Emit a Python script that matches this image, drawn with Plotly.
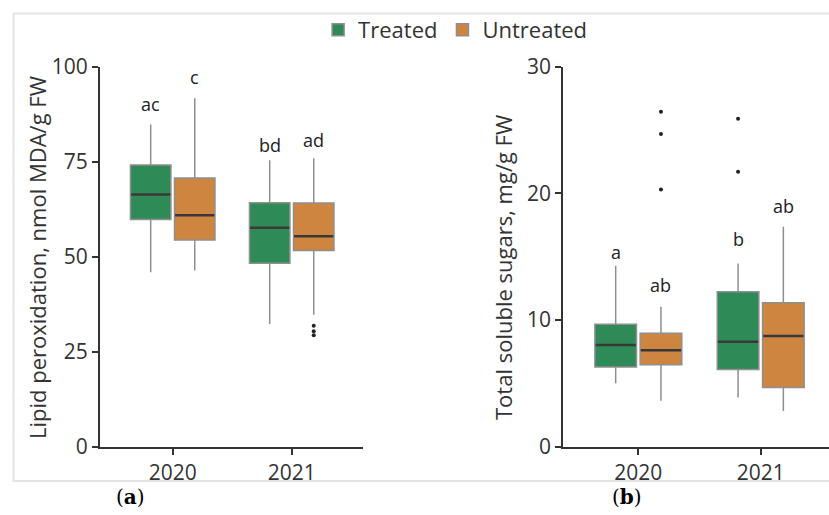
import plotly.graph_objects as go

# ---------------- data ----------------
years = ["2020", "2021"]
series = ["Treated", "Untreated"]
colors = {"Treated": "#2E8B57", "Untreated": "#CD853F"}

# Panel (a): Lipid peroxidation, nmol MDA/g FW
a_q1 = {"Treated": [59.8, 48.3], "Untreated": [54.4, 51.6]}
a_med = {"Treated": [66.4, 57.6], "Untreated": [60.9, 55.4]}
a_q3 = {"Treated": [74.1, 64.2], "Untreated": [70.7, 64.1]}
a_lo = {"Treated": [45.9, 32.3], "Untreated": [46.4, 34.7]}
a_hi = {"Treated": [84.8, 75.4], "Untreated": [91.7, 75.9]}
a_out = {"Treated": [[], []], "Untreated": [[], [31.8, 30.4, 29.3]]}
a_letters = {"Treated": ["ac", "bd"], "Untreated": ["c", "ad"]}
a_letter_y = {"Treated": [90.1, 79.3], "Untreated": [97.4, 80.8]}

# Panel (b): Total soluble sugars, mg/g FW
b_q1 = {"Treated": [6.29, 6.10], "Untreated": [6.47, 4.68]}
b_med = {"Treated": [8.03, 8.29], "Untreated": [7.61, 8.74]}
b_q3 = {"Treated": [9.66, 12.24], "Untreated": [8.95, 11.37]}
b_lo = {"Treated": [5.0, 3.89], "Untreated": [3.63, 2.82]}
b_hi = {"Treated": [14.29, 14.47], "Untreated": [11.05, 17.37]}
b_out = {"Treated": [[], [25.9, 21.7]], "Untreated": [[26.45, 24.68, 20.3], []]}
b_letters = {"Treated": ["a", "b"], "Untreated": ["ab", "ab"]}
b_letter_y = {"Treated": [15.4, 16.4], "Untreated": [12.8, 19.0]}

a_yticks = [0, 25, 50, 75, 100]
b_yticks = [0, 10, 20, 30]

# ---------------- style ----------------
FONT = "Open Sans"
TXT = "#333333"
offsets = {"Treated": -0.185, "Untreated": 0.185}
BW = 0.34

fig = go.Figure()


def add_panel(xa, ya, q1, med, q3, lo, hi, out, letters, letter_y, show_legend):
    for s in series:
        pos = [i + offsets[s] for i in range(len(years))]
        fig.add_trace(go.Box(
            x=pos, q1=q1[s], median=med[s], q3=q3[s],
            lowerfence=lo[s], upperfence=hi[s],
            width=BW, whiskerwidth=0,
            fillcolor=colors[s],
            line=dict(color="#8f8f8f", width=1.5),
            name=s, legendgroup=s, showlegend=show_legend,
            boxpoints=False,
            xaxis=xa, yaxis=ya, hoverinfo="skip",
        ))
        # median lines
        mx, my = [], []
        for p, m in zip(pos, med[s]):
            mx += [p - BW / 2 + 0.005, p + BW / 2 - 0.005, None]
            my += [m, m, None]
        fig.add_trace(go.Scatter(
            x=mx, y=my, mode="lines",
            line=dict(color="#383838", width=2.5),
            showlegend=False, xaxis=xa, yaxis=ya, hoverinfo="skip",
        ))
        # outliers
        ox, oy = [], []
        for p, pts in zip(pos, out[s]):
            for v in pts:
                ox.append(p)
                oy.append(v)
        if ox:
            fig.add_trace(go.Scatter(
                x=ox, y=oy, mode="markers",
                marker=dict(color="#222222", size=4),
                showlegend=False, xaxis=xa, yaxis=ya, hoverinfo="skip",
            ))
        # letters
        for p, t, yv in zip(pos, letters[s], letter_y[s]):
            fig.add_annotation(
                x=p, y=yv, text=t, showarrow=False,
                xanchor="center", yanchor="middle",
                xref=xa, yref=ya.replace("yaxis", "y"),
                font=dict(family=FONT, size=18, color="#222222"),
            )


add_panel("x", "y", a_q1, a_med, a_q3, a_lo, a_hi, a_out, a_letters, a_letter_y, True)
add_panel("x2", "y2", b_q1, b_med, b_q3, b_lo, b_hi, b_out, b_letters, b_letter_y, False)

ax_common = dict(
    showline=True, linecolor="#333333", linewidth=2,
    ticks="outside", ticklen=6, tickwidth=1.5, tickcolor="#333333",
    showgrid=False, zeroline=False, automargin=False,
    tickfont=dict(family=FONT, size=21, color=TXT),
)

ydom = [1 - 446.7 / 515, 1 - 66.7 / 515]

fig.update_layout(
    width=829, height=515,
    margin=dict(l=0, r=0, t=0, b=0, autoexpand=False),
    paper_bgcolor="white", plot_bgcolor="white",
    boxmode="overlay",
    xaxis=dict(domain=[100 / 829, 363 / 829], range=[-0.611, 1.599],
               tickvals=[0, 1], ticktext=years, anchor="y", **ax_common),
    yaxis=dict(domain=ydom, range=[0, 100], tickvals=a_yticks, anchor="x", **ax_common),
    xaxis2=dict(domain=[563.3 / 829, 1.0], range=[-0.613, 1.558],
                tickvals=[0, 1], ticktext=years, anchor="y2", **ax_common),
    yaxis2=dict(domain=ydom, range=[0, 30], tickvals=b_yticks, anchor="x2", **ax_common),
    legend=dict(orientation="h", x=0.549, xanchor="center", y=1 - 30 / 515, yanchor="middle",
                font=dict(family=FONT, size=22, color=TXT), itemwidth=30,
                bgcolor="rgba(0,0,0,0)", tracegroupgap=0),
    showlegend=True,
)

# axis titles
fig.add_annotation(x=37 / 829, y=1 - 258 / 515, xref="paper", yref="paper",
                   xanchor="center", yanchor="middle",
                   text="Lipid peroxidation, nmol MDA/g FW", textangle=-90, showarrow=False,
                   font=dict(family=FONT, size=22, color=TXT))
fig.add_annotation(x=503 / 829, y=1 - 268 / 515, xref="paper", yref="paper",
                   xanchor="center", yanchor="middle",
                   text="Total soluble sugars, mg/g FW", textangle=-90, showarrow=False,
                   font=dict(family=FONT, size=22, color=TXT))

# panel labels
fig.add_annotation(x=130 / 829, y=1 - 497 / 515, xref="paper", yref="paper",
                   xanchor="center", yanchor="middle",
                   text="(<b>a</b>)", showarrow=False,
                   font=dict(family="DejaVu Serif", size=20, color="black"))
fig.add_annotation(x=627 / 829, y=1 - 497 / 515, xref="paper", yref="paper",
                   xanchor="center", yanchor="middle",
                   text="(<b>b</b>)", showarrow=False,
                   font=dict(family="DejaVu Serif", size=20, color="black"))

# light frame around the figure area
fig.add_shape(type="rect", xref="paper", yref="paper",
              x0=13.5 / 829, x1=1.02, y0=1 - 481 / 515, y1=1 - 13.5 / 515,
              line=dict(color="#e4e4e4", width=2), layer="below")

fig.write_html("out.html")
